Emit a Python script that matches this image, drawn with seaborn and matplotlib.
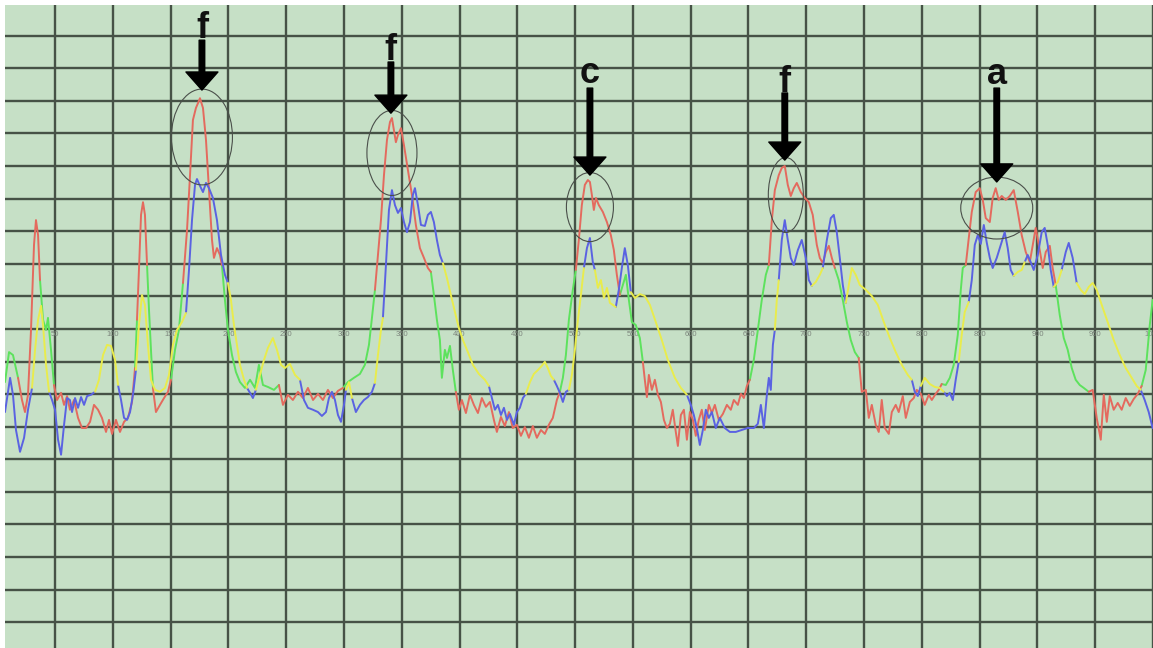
import numpy as np
import pandas as pd
import matplotlib
matplotlib.use("Agg")
import matplotlib.pyplot as plt
from matplotlib.patches import Ellipse
import seaborn as sns

# ---------------- data ----------------
# Trace A (red / green), x in samples, y in arbitrary amplitude units (grid = 10)
a_x = [6.7, 10.2, 13.6, 18.0, 21.4, 24.0, 26.6, 29.2, 31.8, 33.5,
       35.3, 37.0, 39.6, 42.2, 43.9, 46.5, 49.1, 51.7, 55.2, 57.8,
       60.4, 62.9, 66.4, 69.9, 73.3, 76.8, 80.3, 83.7, 87.2, 90.6,
       94.1, 96.7, 99.3, 102.7, 106.2, 109.7, 113.1, 116.6, 119.2, 120.9,
       122.6, 124.4, 126.1, 127.8, 129.6, 131.3, 133.0, 134.7, 137.3, 140.8,
       144.3, 147.7, 150.3, 153.8, 157.2, 160.7, 164.2, 166.8, 169.3, 171.9,
       173.7, 175.4, 178.0, 180.6, 183.2, 185.8, 187.5, 190.1, 192.7, 194.4,
       197.0, 199.6, 203.1, 206.5, 210.0, 214.3, 218.7, 223.0, 226.4, 229.9,
       234.2, 239.4, 243.7, 247.2, 251.5, 255.8, 260.2, 264.5, 268.8, 273.2,
       277.5, 281.8, 286.1, 290.4, 294.8, 299.1, 303.4, 308.6, 313.8, 318.1,
       321.6, 324.2, 326.8, 329.4, 332.0, 334.6, 337.2, 339.8, 341.5, 343.2,
       344.9, 346.7, 349.3, 351.9, 355.3, 358.8, 362.2, 365.7, 369.2, 372.6,
       375.2, 377.8, 380.4, 383.0, 384.7, 387.3, 389.1, 391.7, 394.2, 396.8,
       399.4, 402.0, 405.5, 409.0, 412.4, 415.9, 419.3, 422.8, 426.3, 429.7,
       432.3, 435.8, 439.2, 442.7, 446.1, 449.6, 453.1, 456.5, 460.0, 463.4,
       466.9, 470.4, 473.8, 477.3, 480.7, 484.2, 486.8, 489.4, 492.0, 494.6,
       498.0, 500.6, 503.2, 505.8, 508.4, 511.0, 512.8, 514.5, 516.2, 518.0,
       520.5, 524.0, 527.5, 530.9, 533.5, 536.1, 538.7, 541.3, 543.9, 546.5,
       549.1, 552.5, 556.0, 558.6, 560.3, 562.1, 563.8, 566.4, 569.0, 571.6,
       574.2, 576.8, 579.4, 582.0, 584.5, 587.1, 588.9, 591.5, 594.1, 596.7,
       599.3, 601.9, 604.4, 607.0, 609.6, 612.2, 615.7, 618.3, 620.9, 624.3,
       627.8, 631.3, 634.7, 637.3, 640.8, 643.4, 646.0, 648.6, 651.2, 654.6,
       658.1, 661.5, 665.0, 667.6, 670.2, 672.8, 676.2, 678.8, 681.4, 684.0,
       686.6, 689.2, 691.8, 695.3, 698.7, 702.2, 705.6, 709.1, 711.7, 714.3,
       716.9, 719.5, 722.1, 724.7, 728.1, 731.6, 735.1, 738.5, 742.0, 745.4,
       748.0, 751.5, 754.1, 756.7, 760.1, 762.7, 765.3, 767.9, 771.4, 774.0,
       777.4, 780.0, 783.5, 786.1, 789.6, 793.0, 795.6, 799.1, 802.5, 806.0,
       808.6, 812.0, 814.6, 817.2, 820.7, 824.2, 827.6, 831.1, 833.7, 835.4,
       838.0, 840.6, 843.2, 846.6, 850.1, 852.7, 855.3, 858.8, 861.3, 863.9,
       866.5, 869.1, 872.6, 876.1, 879.5, 883.0, 886.4, 889.9, 893.4, 896.0,
       898.5, 902.0, 904.6, 907.2, 910.7, 913.2, 915.8, 919.3, 922.8, 926.2,
       929.7, 933.1, 936.6, 940.1, 944.4, 947.8, 951.3, 954.8, 957.4, 960.0,
       962.6, 966.0, 969.5, 972.9, 976.4, 979.9, 983.3, 986.8, 990.2, 993.7,
       997.2, 999.7]
a_y = [-16.3, -7.1, -8.0, -15.0, -21.8, -25.5, -20.2, -0.3, 25.8, 33.4,
       28.8, 15.0, 2.8, -0.3, 3.4, -6.4, -17.2, -21.8, -19.6, -23.3,
       -20.6, -24.8, -21.8, -27.3, -30.4, -30.4, -28.5, -23.3, -24.8, -27.3,
       -31.6, -27.9, -32.2, -27.9, -31.6, -28.5, -27.3, -22.4, -12.0, 2.8,
       18.1, 35.0, 38.9, 35.0, 19.6, 5.8, -6.4, -18.1, -25.5, -23.3,
       -21.2, -19.3, -15.6, -6.4, -0.3, 14.1, 30.4, 47.2, 64.1, 67.8,
       69.3, 70.8, 67.8, 58.0, 42.6, 27.3, 21.8, 24.8, 22.7, 19.6,
       8.9, -0.3, -8.0, -13.2, -16.3, -18.1, -15.6, -18.1, -11.0, -17.2,
       -17.8, -18.7, -17.2, -23.3, -20.2, -21.8, -19.3, -21.2, -18.1, -21.8,
       -19.9, -21.8, -18.7, -21.2, -19.0, -18.1, -16.3, -15.0, -13.8, -11.0,
       -4.9, 3.4, 12.0, 22.7, 33.4, 47.2, 58.0, 63.5, 64.7, 61.0,
       57.3, 59.5, 61.6, 56.4, 48.8, 41.1, 31.9, 24.8, 21.8, 18.7,
       17.5, 10.4, 2.8, -3.4, -15.0, -6.4, -8.9, -5.2, -12.6, -19.3,
       -24.8, -21.8, -25.8, -20.2, -23.3, -25.8, -21.2, -23.9, -22.4, -27.9,
       -31.6, -27.0, -29.8, -25.5, -30.4, -29.4, -32.8, -30.1, -33.4, -29.8,
       -33.4, -31.0, -32.2, -29.4, -27.3, -21.8, -19.3, -15.0, -8.0, 2.8,
       12.0, 18.1, 27.3, 38.0, 44.2, 45.7, 45.1, 41.1, 36.5, 40.2,
       38.0, 35.9, 32.8, 28.8, 24.2, 16.6, 10.4, 13.5, 16.6, 8.9,
       2.1, 1.2, -2.8, -10.1, -15.6, -20.9, -14.1, -18.7, -15.6, -20.2,
       -22.4, -27.9, -30.4, -29.1, -24.8, -31.6, -35.9, -26.4, -24.8, -34.0,
       -25.5, -27.9, -32.8, -27.9, -24.8, -31.0, -23.3, -25.8, -23.3, -27.9,
       -26.1, -23.3, -24.8, -21.8, -23.3, -19.9, -21.2, -17.5, -15.6, -9.5,
       -0.3, 8.9, 16.6, 19.6, 33.4, 42.6, 47.2, 49.4, 50.0, 44.2,
       40.8, 43.2, 44.8, 42.0, 40.2, 38.9, 35.0, 25.8, 21.8, 20.2,
       23.6, 25.5, 21.8, 18.7, 15.0, 8.9, 2.1, -3.4, -7.1, -8.9,
       -19.3, -18.7, -27.3, -23.3, -29.4, -31.6, -21.8, -30.4, -32.2, -25.5,
       -23.3, -25.5, -20.6, -27.3, -22.4, -21.2, -18.7, -19.9, -23.3, -20.2,
       -21.8, -19.9, -18.7, -16.9, -17.2, -15.0, -11.0, -1.8, 12.0, 18.7,
       19.6, 27.9, 35.9, 42.0, 43.2, 39.6, 34.0, 32.8, 40.2, 43.2,
       39.6, 40.8, 39.6, 40.8, 42.6, 35.9, 28.8, 23.6, 20.5, 25.8,
       31.0, 24.2, 18.7, 23.6, 25.5, 18.7, 13.5, 4.3, -2.8, -6.4,
       -12.0, -15.6, -17.2, -18.1, -19.3, -18.7, -27.3, -34.0, -20.2, -28.5,
       -20.6, -24.8, -22.7, -24.8, -21.2, -23.6, -21.5, -19.9, -17.5, -12.6,
       1.2, 8.9]
a_c = ("gggrrrrrrr" "rgggggrrrr" "rrrrrrrrrr" "rrrrrrrrgr" "rrrrgggrrr"
       "rrgggrrrrr" "rrrrrrrrrg" "gggggggggg" "ggrrrrrrrr" "rrrrrggggg"
       "ggrrrrrrrr" "rrrrrrrrrr" "gggggggggr" "rrrrrrrrrr" "rrrrrrrrrr"
       "rrrrrrgggg" "grrrrrrrrr" "rrrrrrgggg" "gggrrrrrrr" "rrrrrrrrrr"
       "rrrrrrrrrr" "rrrrrrrrgg" "gggrrrrrrr" "rrrrrrrrrr" "rrrggggggr"
       "rrrrrrrrrr" "rrrrrrrrrr" "rrrggggggg" "rrrrrrrrrr" "rrrrrrrrrr"
       "rrrrrrgggg" "ggggrrrrrr" "rrrrrrrrgg" "gg")

# Trace B (blue / yellow)
b_x = [6.7, 9.3, 11.1, 13.6, 16.2, 19.7, 23.2, 26.6, 30.1, 32.7,
       35.3, 37.9, 39.6, 42.2, 44.8, 47.4, 50.0, 52.6, 55.2, 57.8,
       60.4, 62.9, 64.7, 67.3, 69.9, 72.5, 75.1, 77.7, 81.1, 84.6,
       88.0, 91.5, 95.0, 98.4, 101.9, 104.5, 107.1, 109.7, 112.3, 114.9,
       117.4, 120.0, 122.6, 125.2, 127.8, 130.4, 133.0, 136.5, 140.8, 145.1,
       148.6, 152.0, 155.5, 159.8, 163.3, 165.9, 168.5, 171.1, 172.8, 175.4,
       178.0, 180.6, 183.2, 186.6, 190.1, 193.6, 197.0, 199.6, 202.2, 204.8,
       207.4, 210.0, 213.5, 216.1, 218.7, 221.2, 223.8, 227.3, 230.8, 234.2,
       238.5, 242.0, 245.5, 248.9, 253.2, 257.6, 261.9, 265.4, 268.8, 273.2,
       277.5, 280.9, 284.4, 287.0, 289.6, 292.2, 294.8, 297.4, 300.0, 301.7,
       304.3, 306.9, 310.3, 313.8, 317.3, 320.7, 324.2, 326.8, 329.4, 332.0,
       333.7, 336.3, 338.9, 341.5, 344.1, 346.7, 349.3, 351.9, 354.5, 357.1,
       359.6, 361.4, 364.0, 366.6, 370.0, 372.6, 375.2, 377.8, 380.4, 383.0,
       385.6, 389.1, 392.5, 396.0, 399.4, 402.9, 407.2, 411.5, 416.7, 421.9,
       425.4, 428.0, 430.6, 433.2, 435.8, 438.4, 441.0, 443.6, 447.0, 449.6,
       452.2, 454.8, 457.4, 460.9, 464.3, 467.8, 471.2, 473.8, 476.4, 479.0,
       481.6, 484.2, 486.8, 489.4, 492.0, 494.6, 497.2, 499.8, 502.4, 505.0,
       507.6, 510.2, 512.8, 515.3, 517.1, 519.7, 522.3, 524.9, 527.5, 530.1,
       532.6, 535.2, 537.8, 540.4, 543.0, 545.6, 548.2, 551.7, 556.0, 560.3,
       564.7, 569.8, 575.0, 580.2, 586.3, 591.5, 596.7, 600.1, 602.7, 605.3,
       607.9, 610.5, 613.1, 615.7, 618.3, 621.7, 625.2, 629.5, 633.9, 639.0,
       644.2, 649.4, 654.6, 658.1, 660.7, 663.3, 665.9, 667.6, 669.3, 671.1,
       672.8, 674.5, 676.2, 678.8, 681.4, 684.0, 686.6, 689.2, 692.7, 696.1,
       699.6, 702.2, 704.8, 708.2, 711.7, 714.3, 717.8, 721.2, 723.8, 726.4,
       729.0, 731.6, 734.2, 736.8, 739.4, 742.8, 746.3, 751.5, 756.7, 761.9,
       767.1, 772.3, 777.4, 782.6, 787.8, 791.3, 793.9, 796.5, 799.1, 802.5,
       806.9, 811.2, 815.5, 819.0, 821.6, 824.2, 826.8, 829.3, 831.9, 834.5,
       837.1, 840.6, 843.2, 845.8, 848.4, 851.0, 853.6, 856.2, 858.8, 861.3,
       864.8, 868.3, 871.7, 874.3, 876.9, 879.5, 883.0, 886.4, 889.0, 891.6,
       894.2, 896.8, 900.3, 903.7, 906.3, 908.9, 911.5, 914.1, 917.6, 921.0,
       924.5, 927.1, 930.5, 934.0, 937.5, 940.9, 944.4, 947.8, 951.3, 955.6,
       960.8, 966.0, 971.2, 976.4, 981.6, 985.9, 989.4, 992.8, 996.3, 999.7]
b_y = [-25.5, -19.3, -15.0, -20.2, -31.0, -37.7, -33.4, -24.8, -18.1, -6.4,
       2.8, 7.1, 1.2, -11.0, -19.3, -21.8, -24.8, -34.0, -38.6, -29.4,
       -21.2, -21.8, -25.5, -21.2, -24.2, -20.9, -23.3, -20.6, -20.2, -19.3,
       -15.6, -8.0, -4.9, -5.2, -9.5, -17.2, -21.8, -27.3, -27.9, -25.5,
       -20.2, -12.6, 1.2, 10.4, 7.4, -4.9, -15.6, -18.7, -19.3, -18.1,
       -14.1, -4.9, -0.3, 2.1, 4.9, 18.1, 33.4, 44.2, 46.0, 43.9,
       42.0, 44.8, 43.2, 40.2, 33.4, 22.7, 16.6, 14.1, 8.9, 1.2,
       -4.9, -11.0, -15.6, -18.1, -19.6, -21.2, -18.7, -14.1, -9.5, -5.8,
       -2.8, -6.4, -11.0, -12.0, -10.7, -14.1, -15.6, -21.8, -24.2, -24.8,
       -25.5, -26.7, -25.5, -21.2, -19.3, -21.8, -26.4, -28.5, -23.3, -18.7,
       -16.3, -21.2, -25.5, -23.3, -21.8, -20.9, -19.3, -16.6, -8.0, -0.3,
       3.4, 19.6, 36.5, 42.6, 38.0, 35.6, 37.1, 32.8, 29.7, 32.8,
       41.1, 43.2, 38.0, 31.9, 31.6, 35.0, 35.9, 32.8, 27.3, 22.7,
       20.2, 15.6, 10.4, 5.2, 0.3, -3.4, -7.1, -11.0, -13.8, -15.6,
       -17.5, -21.2, -24.8, -23.3, -26.4, -24.2, -27.9, -26.1, -29.4, -25.5,
       -24.2, -21.2, -19.9, -16.3, -13.8, -12.6, -11.3, -10.1, -12.0, -14.4,
       -15.6, -17.5, -19.6, -22.4, -19.3, -18.7, -14.1, -6.4, 2.8, 10.4,
       18.7, 24.8, 27.9, 20.5, 18.1, 12.6, 15.0, 9.5, 12.6, 8.0,
       7.4, 6.7, 12.0, 18.7, 24.8, 19.6, 11.3, 9.5, 10.7, 10.1,
       7.4, 2.1, -3.4, -9.5, -15.0, -18.1, -20.2, -23.3, -26.4, -30.4,
       -35.6, -31.0, -24.8, -27.3, -25.5, -30.4, -27.3, -30.4, -31.6, -31.6,
       -31.0, -30.4, -30.4, -29.1, -23.3, -30.4, -20.2, -15.0, -18.7, -4.9,
       -0.3, 8.9, 15.0, 27.3, 33.4, 27.3, 21.8, 19.6, 24.2, 27.3,
       21.8, 15.0, 13.2, 14.4, 16.6, 18.7, 27.3, 34.0, 35.0, 29.7,
       21.8, 13.5, 8.0, 13.5, 18.7, 16.6, 13.5, 12.0, 10.1, 7.4,
       2.1, -2.8, -7.1, -11.0, -14.1, -15.6, -19.3, -20.6, -17.5, -15.0,
       -16.9, -17.8, -18.1, -19.3, -20.6, -19.6, -21.8, -15.6, -10.1, -1.8,
       5.2, 8.3, 15.0, 25.8, 28.8, 26.1, 31.9, 26.4, 21.8, 18.7,
       21.8, 25.8, 29.7, 24.8, 18.1, 16.3, 17.5, 18.1, 20.5, 22.7,
       20.5, 18.1, 22.7, 29.7, 31.0, 25.8, 18.1, 12.9, 14.4, 18.1,
       23.6, 26.4, 21.8, 14.1, 12.0, 10.7, 12.9, 14.1, 12.0, 7.4,
       2.1, -3.4, -8.0, -12.0, -15.0, -17.5, -18.7, -21.8, -25.5, -30.4]
b_c = ("bbbbbbbbyy" "yyyybbbbbb" "bbbbbbbbby" "yyyyybbbbb" "byyyyyyyyy"
       "yyyybbbbbb" "bbbbbbbyyy" "yyybbbyyyy" "yyyyyybbbb" "bbbbbbbbby"
       "ybbbbbbyyy" "bbbbbbbbbb" "bbbbbbbbbb" "yyyyyyyyyy" "bbbbbbbbbb"
       "bbyyyyyyyy" "bbbbbyyyyy" "bbbbyyyyyy" "ybbbbbyyyy" "yyyyyybbbb"
       "bbbbbbbbbb" "bbbbbbbbbb" "yybbbbbbbb" "bbyyybbbbb" "bbyyyyyyyy"
       "yyyyybbbyy" "yyybbbbbyy" "ybbbbbbbbb" "bbbbbyyybb" "bbbbbbbyyb"
       "bbbyyyyyyy" "yyyyyybbbb")

# x-axis tick labels
tick_vals = list(range(50, 1001, 50))

# annotations
ann_labels = ["f", "f", "c", "f", "a"]
ann_x = [177.1, 340.6, 512.8, 681.4, 864.8]
ann_tail = [88.6, 81.9, 73.9, 72.4, 73.9]
ann_tip = [73.3, 66.2, 47.2, 51.8, 45.1]
ann_text_y = [89.3, 82.4, 75.5, 72.7, 75.2]
ell_x = [177.1, 341.5, 512.8, 682.3, 864.8]
ell_y = [58.9, 54.0, 37.4, 41.1, 37.1]
ell_w = [52.8, 43.3, 40.7, 30.3, 62.3]
ell_h = [29.4, 26.1, 21.2, 23.0, 19.0]

COLORS = {"r": "#e46a5e", "g": "#5de25d", "b": "#5a62e2", "y": "#e9ec4c"}


def build_segments(xs, ys, cs, name):
    rows = []
    seg = 0
    start = 0
    n = len(xs)
    for i in range(1, n):
        if i == n - 1 or cs[i] != cs[start]:
            for j in range(start, i + 1):
                rows.append((xs[j], ys[j], cs[start], f"{name}{seg}"))
            seg += 1
            start = i
    return rows


rows = build_segments(a_x, a_y, a_c, "A") + build_segments(b_x, b_y, b_c, "B")
df = pd.DataFrame(rows, columns=["x", "y", "color", "seg"])

sns.set_style("white")
plt.rcParams["font.family"] = ["Liberation Sans", "DejaVu Sans"]

fig = plt.figure(figsize=(11.53, 6.48), dpi=100)
ax = fig.add_axes([5 / 1153, 0, 1148 / 1153, 643 / 648])
ax.set_facecolor("#c6e0c6")

dfa = df[df.seg.str.startswith("A")]
dfb = df[df.seg.str.startswith("B")]
for d in (dfa, dfb):
    sns.lineplot(data=d, x="x", y="y", hue="color", units="seg", estimator=None,
                 sort=False, palette=COLORS, linewidth=1.4, legend=False, ax=ax,
                 zorder=3)

ax.set_xlim(6.7, 1000)
ax.set_ylim(-97.9, 99.4)
ax.set_xticks(tick_vals)
ax.set_xticklabels([str(v) for v in tick_vals])
ax.set_yticks(np.arange(-90, 100, 10))
ax.set_yticklabels([])
ax.grid(True, color="#465246", linewidth=1.7, zorder=1)
ax.set_axisbelow(True)
for s in ax.spines.values():
    s.set_visible(False)
ax.spines["bottom"].set_position(("data", 0))
ax.tick_params(axis="x", length=0, pad=1.5, labelsize=5.5, labelcolor="#7c857c")
ax.tick_params(axis="y", length=0)
ax.set_xlabel("")
ax.set_ylabel("")

for cx, cy, w, h in zip(ell_x, ell_y, ell_w, ell_h):
    ax.add_patch(Ellipse((cx, cy), w, h, fill=False, edgecolor="#4a4f4a",
                         linewidth=0.8, zorder=4))

for lab, x, t0, t1, ty in zip(ann_labels, ann_x, ann_tail, ann_tip, ann_text_y):
    ax.annotate("", xy=(x, t1), xytext=(x, t0),
                arrowprops=dict(arrowstyle="simple,head_length=0.65,head_width=1.15,tail_width=0.2",
                                color="black", mutation_scale=20, shrinkA=0, shrinkB=0),
                zorder=5)
    ax.text(x, ty, lab, ha="center", va="baseline", fontsize=26,
            fontweight="bold", color="#111111", zorder=5)

fig.savefig("out.png", dpi=100, facecolor="white")
